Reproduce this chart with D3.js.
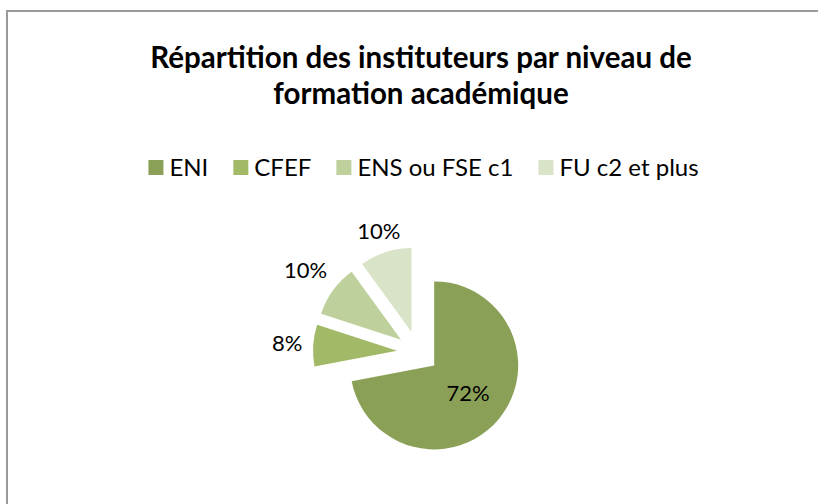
<!DOCTYPE html>
<html>
<head>
<meta charset="utf-8">
<script src="https://cdn.jsdelivr.net/npm/d3@7"></script>
<style>
  body { margin: 0; background: #fff; }
  text { font-family: Lato, "Open Sans", sans-serif; fill: #000; }
</style>
</head>
<body>
<script>
const WIDTH = 818;
const HEIGHT = 504;

// data
const categories = ["ENI", "CFEF", "ENS ou FSE c1", "FU c2 et plus"];
const values = [72, 8, 10, 10];
const labels = ["72%", "8%", "10%", "10%"];
const colors = ["#8ba057", "#a2ba68", "#bed09b", "#d8e3c7"];
const titleLines = ["Répartition des instituteurs par niveau de", "formation académique"];

const CX = 418, CY = 352, R = 84, EXPLODE = 21;
// distance of each label from the pie centre
const labelRadius = [65, 131, 139, 127];

var svg = d3.select("body").append("svg")
    .attr("width", WIDTH)
    .attr("height", HEIGHT);

// chart frame
svg.append("rect")
    .attr("x", 7)
    .attr("y", 11)
    .attr("width", WIDTH + 10)
    .attr("height", HEIGHT + 10)
    .attr("fill", "#fff")
    .attr("stroke", "#9a9a9a")
    .attr("stroke-width", 2);

// title
svg.append("g").selectAll("text")
    .data(titleLines)
    .join("text")
    .attr("x", 421)
    .attr("y", (d, i) => 68 + i * 36)
    .attr("text-anchor", "middle")
    .attr("font-size", 29.5)
    .attr("font-weight", "bold")
    .text(d => d);

// legend
var legend = svg.append("g");
var items = legend.selectAll("g")
    .data(categories)
    .join("g");
items.append("rect")
    .attr("width", 15)
    .attr("height", 15)
    .attr("y", -16)
    .attr("fill", (d, i) => colors[i]);
items.append("text")
    .attr("x", 21)
    .attr("font-size", 24)
    .text(d => d);

var xpos = 0;
items.each(function () {
    var g = d3.select(this);
    g.attr("transform", "translate(" + xpos + ",0)");
    xpos += 21 + g.select("text").node().getComputedTextLength() + 25;
});
xpos -= 25;
legend.attr("transform", "translate(" + (423.5 - xpos / 2) + ",176)");

// pie
var pie = d3.pie().sort(null).value(d => d);
var arcs = pie(values);
var arc = d3.arc().innerRadius(0).outerRadius(R);

var slices = svg.append("g")
    .attr("transform", "translate(" + CX + "," + CY + ")");

slices.selectAll("path")
    .data(arcs)
    .join("path")
    .attr("d", arc)
    .attr("fill", (d, i) => colors[i])
    .attr("transform", function (d) {
        var a = (d.startAngle + d.endAngle) / 2;
        return "translate(" + (EXPLODE * Math.sin(a)) + "," + (-EXPLODE * Math.cos(a)) + ")";
    });

slices.selectAll("text")
    .data(arcs)
    .join("text")
    .attr("x", (d, i) => labelRadius[i] * Math.sin((d.startAngle + d.endAngle) / 2))
    .attr("y", (d, i) => -labelRadius[i] * Math.cos((d.startAngle + d.endAngle) / 2))
    .attr("dy", "0.35em")
    .attr("text-anchor", "middle")
    .attr("font-size", 22)
    .text((d, i) => labels[i]);
</script>
</body>
</html>
